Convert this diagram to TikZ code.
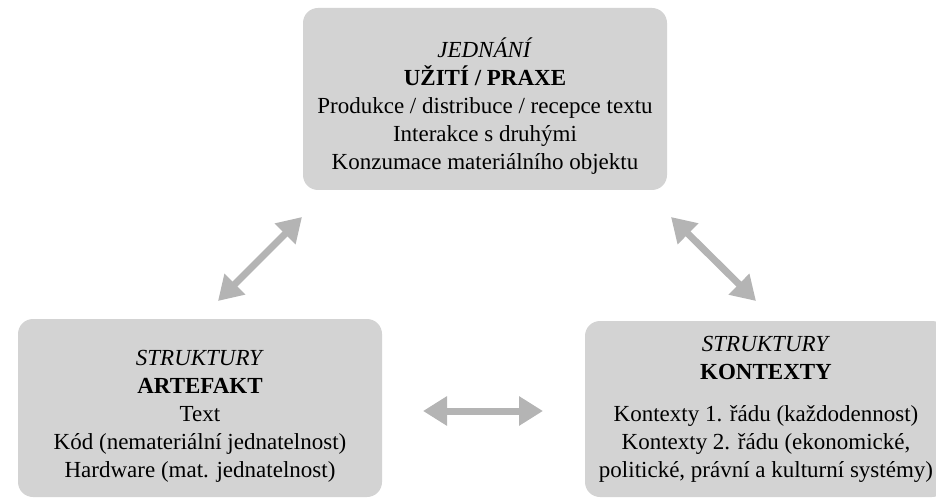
\documentclass[tikz,border=0pt]{standalone}
\usepackage{fontspec}
\setmainfont{Liberation Serif}
\usetikzlibrary{arrows.meta}
\definecolor{boxgray}{RGB}{211,211,211}
\definecolor{arrgray}{RGB}{180,180,180}
\begin{document}
\begin{tikzpicture}[x=1pt,y=-1pt,
  panel/.style={fill=boxgray,rounded corners=15pt,align=center,inner sep=0pt,
    font=\fontsize{23}{28}\selectfont},
  dblarrow/.style={draw=arrgray,line width=7pt,
    {Triangle[length=24pt,width=28pt]}-{Triangle[length=24pt,width=28pt]}}]
\useasboundingbox (0,0) rectangle (936,502);
\node[panel,minimum width=364pt,minimum height=182pt] (top) at (485,99)
  {\rule{0pt}{33pt}\textit{JEDNÁNÍ}\\\textbf{UŽITÍ / PRAXE}\\Produkce / distribuce / recepce textu\\Interakce s druhými\\Konzumace materiálního objektu};
\node[panel,minimum width=364pt,minimum height=178pt] (left) at (200,408)
  {\rule{0pt}{31pt}\textit{STRUKTURY}\\\textbf{ARTEFAKT}\\Text\\Kód (nemateriální jednatelnost)\\Hardware (mat. jednatelnost)};
\node[panel,minimum width=362pt,minimum height=176pt] (right) at (766,409)
  {\textit{STRUKTURY}\\\textbf{KONTEXTY}\\[14pt]Kontexty 1. řádu (každodennost)\\Kontexty 2. řádu (ekonomické,\\politické, právní a kulturní systémy)};
\coordinate (a1s) at (218,301);
\coordinate (a1e) at (302,217);
\coordinate (a2s) at (671,217);
\coordinate (a2e) at (756,301);
\coordinate (a3s) at (423,411);
\coordinate (a3e) at (543,411);
\draw[dblarrow] (a1s) -- (a1e);
\draw[dblarrow] (a2s) -- (a2e);
\draw[dblarrow] (a3s) -- (a3e);
\end{tikzpicture}
\end{document}
